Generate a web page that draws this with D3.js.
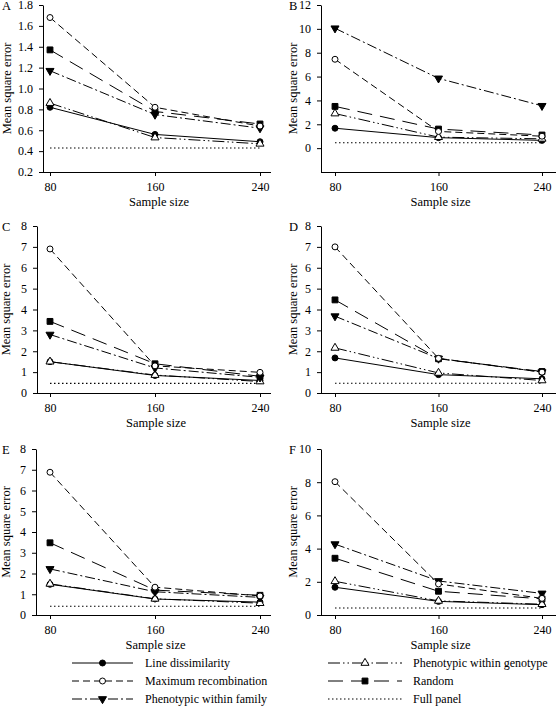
<!DOCTYPE html>
<html><head><meta charset="utf-8">
<script src="https://cdnjs.cloudflare.com/ajax/libs/d3/7.8.5/d3.min.js"></script>
<style>
body{margin:0;background:#fff;}
svg text{font-family:"Liberation Serif","Times New Roman",serif;fill:#000;}
</style></head><body>
<svg id="c" width="558" height="706"></svg>
<script>
// ---------- data ----------
const sampleSizes = [80, 160, 240];
const panelLabels = ["A", "B", "C", "D", "E", "F"];
const seriesNames = ["Line dissimilarity", "Maximum recombination", "Phenotypic within family",
                     "Phenotypic within genotype", "Random", "Full panel"];
// one row per panel A..F, values at sample sizes 80,160,240
const lineDissimilarity = [
  [0.82, 0.56, 0.49], [1.67, 0.88, 0.65], [1.50, 0.84, 0.60],
  [1.68, 0.88, 0.68], [1.48, 0.77, 0.62], [1.67, 0.82, 0.62]];
const maximumRecombination = [
  [1.68, 0.82, 0.64], [7.45, 1.40, 1.00], [6.90, 1.30, 0.99],
  [7.00, 1.66, 1.00], [6.88, 1.34, 0.92], [8.03, 1.87, 1.00]];
const phenotypicWithinFamily = [
  [1.17, 0.75, 0.62], [10.05, 5.85, 3.55], [2.80, 1.20, 0.75],
  [3.68, 1.65, 1.00], [2.22, 1.12, 0.85], [4.27, 2.05, 1.30]];
const phenotypicWithinGenotype = [
  [0.86, 0.53, 0.47], [2.90, 0.92, 0.78], [1.50, 0.86, 0.55],
  [2.16, 0.96, 0.60], [1.50, 0.78, 0.57], [2.03, 0.85, 0.65]];
const randomSel = [
  [1.37, 0.78, 0.66], [3.50, 1.60, 1.10], [3.43, 1.40, 0.80],
  [4.46, 1.64, 1.03], [3.48, 1.20, 0.95], [3.42, 1.43, 0.97]];
const fullPanel = [0.43, 0.45, 0.46, 0.47, 0.42, 0.42];

const yDomains = [[0.2, 1.8], [-2, 12], [0, 8], [0, 8], [0, 8], [0, 10]];
const yTickValues = [
  [0.2, 0.4, 0.6, 0.8, 1.0, 1.2, 1.4, 1.6, 1.8],
  [0, 2, 4, 6, 8, 10, 12],
  [0, 1, 2, 3, 4, 5, 6, 7, 8],
  [0, 1, 2, 3, 4, 5, 6, 7, 8],
  [0, 1, 2, 3, 4, 5, 6, 7, 8],
  [0, 2, 4, 6, 8, 10]];
const yTickFormats = [".1f", "d", "d", "d", "d", "d"];

// ---------- layout / styles ----------
const layout = [
  {ax: 43, x0: 50, x1: 260, xe: 271, yt: 5, yb: 172, lx: 11},
  {ax: 321, x0: 335, x1: 542, xe: 556, yt: 5, yb: 172, lx: 297},
  {ax: 37, x0: 50, x1: 260, xe: 271, yt: 226, yb: 393, lx: 10},
  {ax: 321, x0: 335, x1: 542, xe: 556, yt: 226, yb: 393, lx: 297},
  {ax: 36, x0: 50, x1: 260, xe: 271, yt: 449, yb: 615, lx: 10},
  {ax: 321, x0: 335, x1: 542, xe: 556, yt: 449, yb: 615, lx: 297}];
const letterX = [2, 289, 2, 289, 2, 289];

const seriesStyle = [
  {data: lineDissimilarity, dash: null, sym: d3.symbolCircle, size: 28, fill: "#000", rot: 0},
  {data: maximumRecombination, dash: "7,4", sym: d3.symbolCircle, size: 28, fill: "#fff", rot: 0},
  {data: phenotypicWithinFamily, dash: "10,3,2,3", sym: d3.symbolTriangle, size: 28, fill: "#000", rot: 180},
  {data: phenotypicWithinGenotype, dash: "12,3,1.5,3,1.5,3", sym: d3.symbolTriangle, size: 28, fill: "#fff", rot: 0},
  {data: randomSel, dash: "15,8", sym: d3.symbolSquare, size: 34, fill: "#000", rot: 0},
  {data: null, dash: "1.5,2.5", sym: null}];

const svg = d3.select("#c");
const drawOrder = [5, 0, 3, 2, 4, 1];

panelLabels.forEach((lab, i) => {
  const L = layout[i];
  const x = d3.scaleLinear().domain([sampleSizes[0], sampleSizes[2]]).range([L.x0, L.x1]);
  const y = d3.scaleLinear().domain(yDomains[i]).range([L.yb, L.yt]);
  const g = svg.append("g");

  const ya = g.append("g").attr("transform", `translate(${L.ax},0)`)
    .call(d3.axisLeft(y).tickValues(yTickValues[i]).tickFormat(d3.format(yTickFormats[i]))
      .tickSize(4).tickPadding(6).tickSizeOuter(0));
  const xa = g.append("g").attr("transform", `translate(0,${L.yb})`)
    .call(d3.axisBottom(x).tickValues(sampleSizes).tickFormat(d3.format("d"))
      .tickSize(4).tickPadding(6).tickSizeOuter(0));
  xa.select(".domain").attr("d", `M${L.ax},0.5H${L.xe}`);
  [ya, xa].forEach(a => {
    a.attr("font-family", null).attr("font-size", null);
    a.selectAll("text").style("font-size", "12px");
    a.selectAll("path,line").attr("stroke", "#000").attr("stroke-width", 1);
  });

  g.append("text").attr("x", (L.ax + L.xe) / 2 + 2).attr("y", L.yb + 34)
    .attr("text-anchor", "middle").style("font-size", "12.5px").text("Sample size");
  g.append("text").attr("transform", `translate(${L.lx},${(L.yt + L.yb) / 2}) rotate(-90)`)
    .attr("text-anchor", "middle").style("font-size", "12.5px").text("Mean square error");
  g.append("text").attr("x", letterX[i]).attr("y", L.yt + 5)
    .style("font-size", "12.5px").text(lab);

  const line = d3.line().x((d, j) => x(sampleSizes[j])).y(d => y(d));
  drawOrder.forEach(s => {
    const st = seriesStyle[s];
    if (s === 5) {
      g.append("path").attr("d", line([fullPanel[i], fullPanel[i], fullPanel[i]]))
        .attr("fill", "none").attr("stroke", "#000").attr("stroke-width", 1.1)
        .attr("stroke-dasharray", st.dash);
      return;
    }
    const vals = st.data[i];
    g.append("path").attr("d", line(vals)).attr("fill", "none").attr("stroke", "#000")
      .attr("stroke-width", 1).attr("stroke-dasharray", st.dash);
    g.selectAll(null).data(vals).enter().append("path")
      .attr("d", d3.symbol(st.sym, st.size))
      .attr("transform", (d, j) => `translate(${x(sampleSizes[j])},${y(d)}) rotate(${st.rot})`)
      .attr("fill", st.fill).attr("stroke", "#000").attr("stroke-width", 1);
  });
});

// ---------- legend ----------
const legendCols = [{x0: 72, x1: 133, tx: 145}, {x0: 328, x1: 402, tx: 413}];
const legendRows = [663, 681, 699];
seriesNames.forEach((name, k) => {
  const c = legendCols[Math.floor(k / 3)];
  const yy = legendRows[k % 3];
  const st = seriesStyle[k];
  const lg = svg.append("g");
  lg.append("line").attr("x1", c.x0).attr("x2", c.x1).attr("y1", yy).attr("y2", yy)
    .attr("stroke", "#000").attr("stroke-width", k === 5 ? 1.1 : 1).attr("stroke-dasharray", st.dash);
  if (st.sym) {
    lg.append("path").attr("d", d3.symbol(st.sym, st.size))
      .attr("transform", `translate(${(c.x0 + c.x1) / 2},${yy}) rotate(${st.rot})`)
      .attr("fill", st.fill).attr("stroke", "#000");
  }
  lg.append("text").attr("x", c.tx).attr("y", yy + 4).style("font-size", "12px").text(name);
});
</script></body></html>
